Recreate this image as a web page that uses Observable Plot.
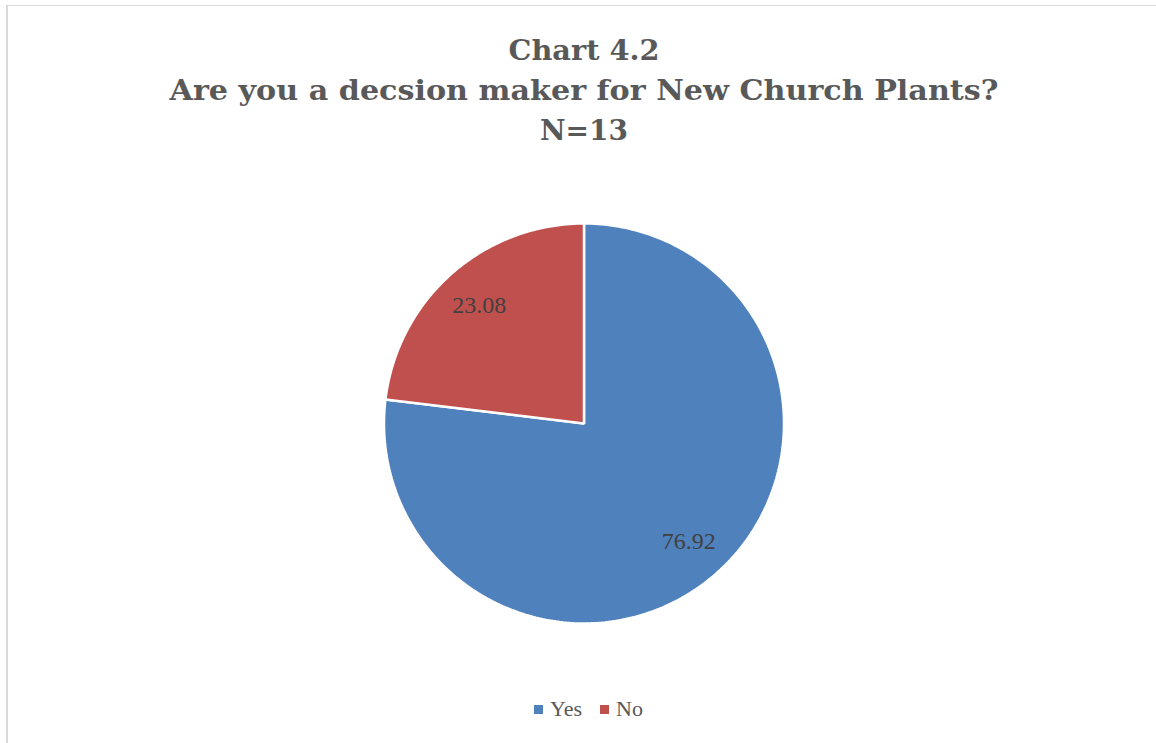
<!DOCTYPE html>
<html><head><meta charset="utf-8">
<script src="https://cdn.jsdelivr.net/npm/d3@7"></script>
<script src="https://cdn.jsdelivr.net/npm/@observablehq/plot@0.6"></script>
<style>
body{margin:0;background:#fff;}
#page{position:relative;width:1156px;height:743px;overflow:hidden;background:#fff;}
.bt{position:absolute;left:6px;top:5px;width:1150px;height:1px;background:#d9d9d9;}
.bl{position:absolute;left:6px;top:5px;width:2px;height:738px;background:#d9d9d9;}
#title{display:block;}
#chart svg{display:block;}
#legend{display:flex;justify-content:center;align-items:center;padding-left:21px;padding-top:13px;font-family:"Liberation Serif",serif;font-size:22px;line-height:22px;color:#595959;}
.sw{display:inline-block;width:9px;height:9px;margin-right:7px;}
.item{display:flex;align-items:center;margin-right:18px;}
.item:last-child{margin-right:0;}
</style></head><body>
<div id="page"><div class="bt"></div><div class="bl"></div>
<svg id="title" width="1156" height="185"></svg>
<div id="chart"></div>
<div id="legend"></div>
</div>
<script>
const titleLines = ["Chart 4.2", "Are you a decsion maker for New Church Plants?", "N=13"];
const categories = ["Yes", "No"];
const values = [76.92, 23.08];
const colors = ["#4F81BD", "#C0504D"];

// Title
const tsvg = d3.select("#title");
const tBase = [60, 100, 140];
const tLen = [151, 829, 88];
titleLines.forEach((t, i) => {
  tsvg.append("text")
    .attr("x", 584).attr("y", tBase[i])
    .attr("text-anchor", "middle")
    .attr("font-family", "DejaVu Serif")
    .attr("font-weight", "bold")
    .attr("font-size", 28)
    .attr("fill", "#595959")
    .attr("textLength", tLen[i])
    .attr("lengthAdjust", "spacingAndGlyphs")
    .text(t);
});

// Pie geometry from data
const total = d3.sum(values);
const pts = [];
const labels = [];
let cum = 0;
categories.forEach((c, i) => {
  const a0 = cum / total * 2 * Math.PI;
  cum += values[i];
  const a1 = cum / total * 2 * Math.PI;
  const n = Math.max(8, Math.ceil((a1 - a0) / (2 * Math.PI) * 360));
  pts.push({cat: c, x: 0, y: 0});
  for (let j = 0; j <= n; j++) {
    const a = a0 + (a1 - a0) * j / n;
    pts.push({cat: c, x: Math.sin(a), y: Math.cos(a)});
  }
  const am = (a0 + a1) / 2;
  labels.push({cat: c, x: 0.79 * Math.sin(am), y: 0.79 * Math.cos(am), text: d3.format(".2f")(values[i])});
});

const W = 1156, H = 500, cx = 583.5, cy = 238, R = 200;
const plot = Plot.plot({
  width: W, height: H,
  marginLeft: cx - R, marginRight: W - cx - R,
  marginTop: cy - R, marginBottom: H - cy - R,
  x: {domain: [-1, 1], axis: null},
  y: {domain: [-1, 1], axis: null},
  color: {domain: categories, range: colors},
  style: {background: "transparent"},
  marks: [
    Plot.line(pts, {x: "x", y: "y", z: "cat", fill: "cat", stroke: "white", strokeWidth: 2.5, strokeLinejoin: "miter", curve: "linear-closed"}),
    Plot.text(labels, {x: "x", y: "y", text: "text", fill: "#404040", fontSize: 24, fontFamily: "Liberation Serif"})
  ]
});
document.getElementById("chart").appendChild(plot);

// Legend
const leg = d3.select("#legend");
categories.forEach((c, i) => {
  const it = leg.append("div").attr("class", "item");
  it.append("span").attr("class", "sw").style("background", colors[i]);
  it.append("span").text(c);
});
</script>
</body></html>
